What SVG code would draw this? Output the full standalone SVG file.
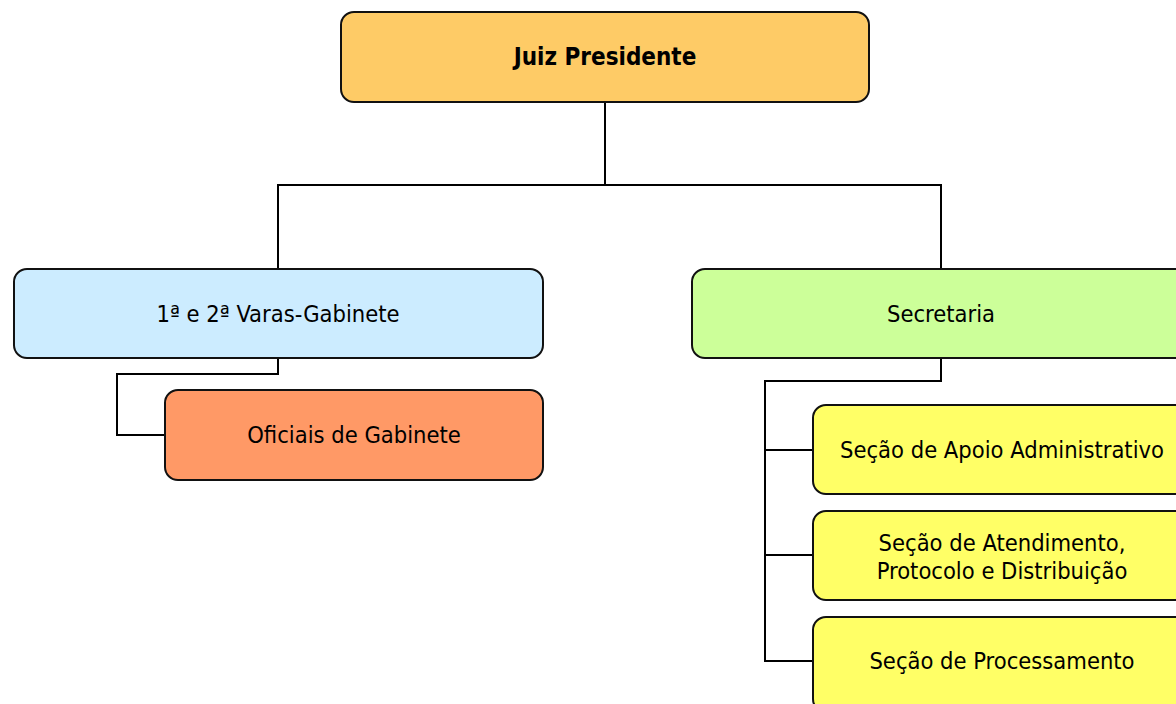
<svg xmlns="http://www.w3.org/2000/svg" width="1176" height="704" viewBox="0 0 1176 704">
<style>
.box{stroke:#111;stroke-width:2}
.t{font-family:"DejaVu Sans Condensed","DejaVu Sans",sans-serif;font-size:23.5px;fill:#000;text-anchor:middle;dominant-baseline:central}
.b{font-weight:bold;font-size:24px}
.c{fill:none;stroke:#000;stroke-width:2}
</style>
<rect width="1176" height="704" fill="#fff"/>
<g id="connectors">
<path class="c" d="M605,102V185M277,185H942M278,185V269M941,185V269"/>
<path class="c" d="M278,358V374H117V435H165"/>
<path class="c" d="M941,358V381H765V661H813M765,450H813M765,555H813"/>
</g>
<g id="juiz"><rect class="box" x="341" y="12" width="528" height="90" rx="13" fill="#FECB66"/><text class="t b" x="605" y="57">Juiz Presidente</text></g>
<g id="varas"><rect class="box" x="14" y="269" width="529" height="89" rx="13" fill="#CCECFF"/><text class="t" x="278" y="314">1ª e 2ª Varas-Gabinete</text></g>
<g id="secretaria"><rect class="box" x="692" y="269" width="498" height="89" rx="13" fill="#CCFF99"/><text class="t" x="941" y="314">Secretaria</text></g>
<g id="oficiais"><rect class="box" x="165" y="390" width="378" height="90" rx="13" fill="#FF9966"/><text class="t" x="354" y="435">Oficiais de Gabinete</text></g>
<g id="apoio"><rect class="box" x="813" y="405" width="378" height="89" rx="13" fill="#FFFF66"/><text class="t" x="1002" y="450">Seção de Apoio Administrativo</text></g>
<g id="atendimento"><rect class="box" x="813" y="511" width="378" height="89" rx="13" fill="#FFFF66"/><text class="t" x="1002" y="543">Seção de Atendimento,</text><text class="t" x="1002" y="571">Protocolo e Distribuição</text></g>
<g id="processamento"><rect class="box" x="813" y="617" width="378" height="95" rx="13" fill="#FFFF66"/><text class="t" x="1002" y="661">Seção de Processamento</text></g>
</svg>
